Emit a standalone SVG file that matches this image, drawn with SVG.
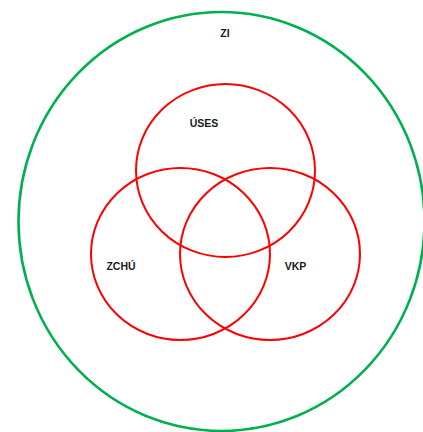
<svg xmlns="http://www.w3.org/2000/svg" width="423" height="432" viewBox="0 0 423 432">
<style>
.red{fill:none;stroke:#ff0000;stroke-width:2}
.green{fill:none;stroke:#00b050;stroke-width:2.6}
text{font-family:"Liberation Sans",Arial,sans-serif;font-weight:bold;font-size:10.5px;fill:#1a1a1a;text-anchor:middle}
</style>
<rect width="423" height="432" fill="#ffffff"/>
<g id="ZI">
<ellipse class="green" cx="221.5" cy="221.5" rx="203" ry="209.5"/>
<text x="225" y="37">ZI</text>
</g>
<g id="USES">
<ellipse class="red" cx="225.5" cy="170.5" rx="89.5" ry="86.5"/>
<text x="204" y="127">ÚSES</text>
</g>
<g id="ZCHU">
<ellipse class="red" cx="180.5" cy="254" rx="89.5" ry="86"/>
<text x="121" y="270">ZCHÚ</text>
</g>
<g id="VKP">
<ellipse class="red" cx="270" cy="254" rx="90" ry="86"/>
<text x="295.5" y="270">VKP</text>
</g>
<g id="connectors"/>
</svg>
